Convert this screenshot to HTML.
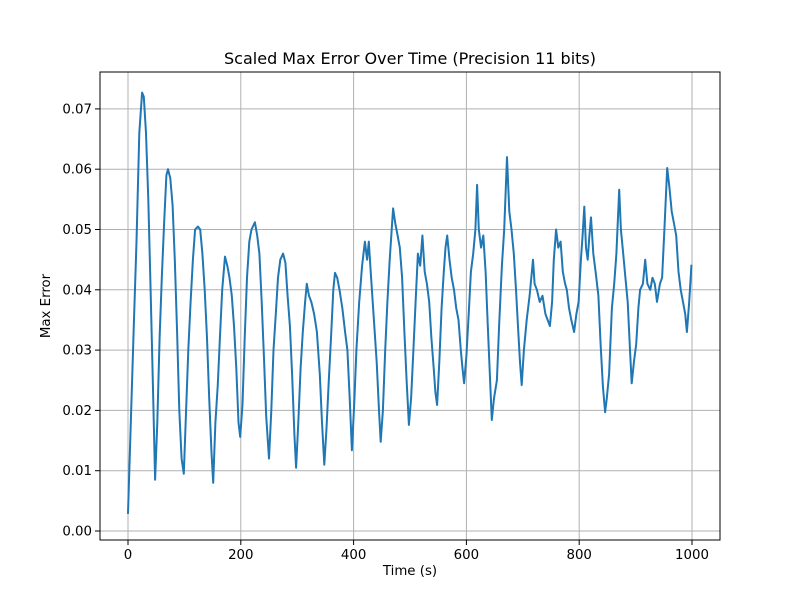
<!DOCTYPE html>
<html><head><meta charset="utf-8"><style>
body{margin:0;background:#fff}
svg{display:block;font-family:"DejaVu Sans","Liberation Sans",sans-serif}
</style></head><body>
<svg id="chart" width="800" height="600" viewBox="0 0 800 600">
<rect x="0" y="0" width="800" height="600" fill="#fff"/>
<text x="410" y="64" text-anchor="middle" font-size="16" fill="#000">Scaled Max Error Over Time (Precision 11 bits)</text>
<g id="grid"></g>
<g id="series"></g>
<rect x="100" y="72" width="620" height="468" fill="none" stroke="#000" stroke-width="1"/>
<g id="ticks"></g>
<text x="410" y="575" text-anchor="middle" font-size="13.33">Time (s)</text>
<text x="0" y="0" transform="translate(50,306) rotate(-90)" text-anchor="middle" font-size="13.33">Max Error</text>
</svg>
<script>
const times=[0,5,10,15,20,25,28,32,36,40,44,48,52,56,60,64,68,71,75,79,83,87,91,95,99,103,107,111,115,119,124,128,132,136,140,144,148,151,155,159,163,167,172,176,180,184,188,192,196,199,203,207,211,215,219,225,229,233,237,241,245,250,254,258,262,266,270,275,279,283,287,291,295,298,302,306,310,314,317,321,325,330,335,340,344,348,352,356,360,364,367,371,375,380,385,389,393,397,401,405,410,415,420,424,427,431,436,441,445,448,452,456,460,464,470,474,478,482,486,490,494,498,502,506,510,514,518,522,526,530,534,538,542,545,548,552,556,560,563,566,570,574,578,582,586,590,593,596,600,604,608,612,616,619,622,626,630,634,638,642,645,649,654,658,663,667,672,676,680,684,688,692,695,698,702,707,712,718,721,725,730,735,740,744,748,752,755,759,763,767,771,775,778,782,786,791,795,799,803,806,809,812,815,818,821,825,829,834,838,842,846,849,853,858,862,866,871,874,878,882,886,890,893,897,901,905,908,913,917,921,926,930,934,938,943,947,951,956,960,964,968,972,976,980,984,988,991,995,999];
const maxError=[.003,.018,.033,.048,.066,.0727,.072,.066,.055,.040,.025,.0085,.018,.032,.042,.051,.059,.060,.0585,.054,.045,.033,.020,.012,.0095,.020,.030,.038,.045,.050,.0505,.050,.046,.040,.032,.022,.013,.008,.018,.024,.032,.040,.0455,.044,.042,.039,.034,.027,.018,.0156,.021,.032,.042,.048,.050,.0512,.049,.046,.038,.029,.019,.012,.020,.030,.036,.042,.045,.046,.0445,.039,.034,.026,.016,.0105,.018,.027,.033,.038,.041,.039,.038,.036,.033,.026,.018,.011,.017,.025,.032,.040,.0428,.042,.040,.037,.033,.030,.022,.0134,.021,.030,.038,.044,.048,.045,.048,.042,.035,.028,.020,.0148,.020,.030,.038,.045,.0535,.051,.049,.047,.042,.033,.025,.0176,.022,.030,.038,.046,.044,.049,.043,.041,.038,.032,.027,.023,.0209,.028,.037,.043,.047,.049,.045,.042,.040,.037,.035,.030,.027,.0245,.029,.036,.043,.046,.050,.0574,.050,.047,.049,.043,.034,.025,.0184,.022,.025,.034,.044,.050,.062,.053,.050,.046,.040,.033,.028,.0242,.030,.035,.039,.045,.041,.040,.038,.039,.036,.035,.034,.038,.045,.050,.047,.048,.043,.041,.040,.037,.035,.033,.036,.038,.045,.049,.0538,.047,.045,.049,.052,.046,.043,.039,.031,.024,.0197,.022,.026,.037,.041,.046,.0566,.050,.046,.042,.038,.030,.0245,.028,.031,.037,.040,.041,.045,.041,.040,.042,.041,.038,.041,.042,.050,.0602,.057,.053,.051,.049,.043,.040,.038,.036,.033,.038,.044];
const xTicks=[0,200,400,600,800,1000];
const yTicks=[0,0.01,0.02,0.03,0.04,0.05,0.06,0.07];
const yTickLabels=["0.00","0.01","0.02","0.03","0.04","0.05","0.06","0.07"];

const NS="http://www.w3.org/2000/svg";
function xs(v){return 128+v*0.564;}
function ys(v){return 531-v*6030;}
const grid=document.getElementById('grid'),ticks=document.getElementById('ticks'),series=document.getElementById('series');
function mk(tag,attrs,parent){const e=document.createElementNS(NS,tag);for(const k in attrs)e.setAttribute(k,attrs[k]);parent.appendChild(e);return e;}
xTicks.forEach(t=>{
  const x=xs(t);
  const g=mk('line',{x1:x,x2:x,y1:72,y2:540,stroke:'#b0b0b0','stroke-width':1},grid);
  
  
  const tk=mk('line',{x1:x,x2:x,y1:540,y2:545,stroke:'#000','stroke-width':1},ticks);
  
  
  const lb=mk('text',{x:x,y:559,'text-anchor':'middle','font-size':13.33},ticks);
  lb.textContent=String(t);
  
  
});
yTicks.forEach((t,i)=>{
  const y=ys(t);
  const g=mk('line',{x1:100,x2:720,y1:y,y2:y,stroke:'#b0b0b0','stroke-width':1},grid);
  
  
  const tk=mk('line',{x1:95,x2:100,y1:y,y2:y,stroke:'#000','stroke-width':1},ticks);
  
  
  const lb=mk('text',{x:92,y:y+4.5,'text-anchor':'end','font-size':13.33},ticks);
  lb.textContent=yTickLabels[i];
  
  
});
const d=times.map((t,i)=>(i?'L':'M')+xs(t).toFixed(1)+' '+ys(maxError[i]).toFixed(1)).join(' ');
const p=mk('path',{d:d,fill:'none',stroke:'#1f77b4','stroke-width':2,'stroke-linejoin':'round','stroke-linecap':'square'},series);


</script>
</body></html>
